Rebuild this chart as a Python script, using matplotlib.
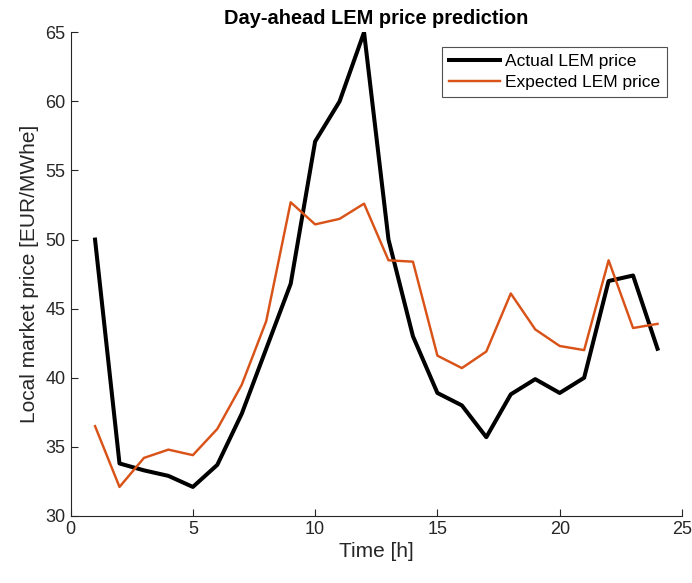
import matplotlib
matplotlib.use("Agg")
import matplotlib.pyplot as plt

hours = list(range(1, 25))
actual = [50.0, 33.8, 33.3, 32.9, 32.1, 33.7, 37.4, 42.1, 46.8, 57.1, 60.0, 65.0,
          50.0, 43.0, 38.9, 38.0, 35.7, 38.8, 39.9, 38.9, 40.0, 47.0, 47.4, 42.1]
expected = [36.5, 32.1, 34.2, 34.8, 34.4, 36.3, 39.5, 44.1, 52.7, 51.1, 51.5, 52.6,
            48.5, 48.4, 41.6, 40.7, 41.9, 46.1, 43.5, 42.3, 42.0, 48.5, 43.6, 43.9]
xticks = [0, 5, 10, 15, 20, 25]
yticks = [30, 35, 40, 45, 50, 55, 60, 65]

plt.rcParams['font.family'] = ['Liberation Sans', 'DejaVu Sans']
gray = (0.15, 0.15, 0.15)

fig = plt.figure(figsize=(6.92, 5.83), dpi=100)
ax = fig.add_axes([0.102, 0.115, 0.8835, 0.8296])

ax.plot(hours, actual, color='black', linewidth=2.9, label='Actual LEM price')
ax.plot(hours, expected, color='#D95319', linewidth=1.75, label='Expected LEM price')

ax.set_xlim(0, 25)
ax.set_ylim(30, 65)
ax.set_xticks(xticks)
ax.set_yticks(yticks)
ax.tick_params(direction='in', length=5, width=0.8, colors=gray, labelsize=13)
for s in ['top', 'right']:
    ax.spines[s].set_visible(False)
for s in ['left', 'bottom']:
    ax.spines[s].set_color(gray)
    ax.spines[s].set_linewidth(0.8)

ax.set_xlabel('Time [h]', fontsize=15, color=gray, labelpad=3)
ax.set_ylabel('Local market price [EUR/MWhe]', fontsize=15, color=gray, labelpad=5)
ax.set_title('Day-ahead LEM price prediction', fontsize=14.4, fontweight='bold', pad=6)

leg = ax.legend(loc='upper right', bbox_to_anchor=(0.9755, 0.970), fontsize=12.5,
                frameon=True, fancybox=False, shadow=False, handlelength=2.9,
                handletextpad=0.3, borderpad=0.4, labelspacing=0.35, borderaxespad=0)
leg.get_frame().set_edgecolor(gray)
leg.get_frame().set_linewidth(0.8)

fig.savefig('out.png', dpi=100)
